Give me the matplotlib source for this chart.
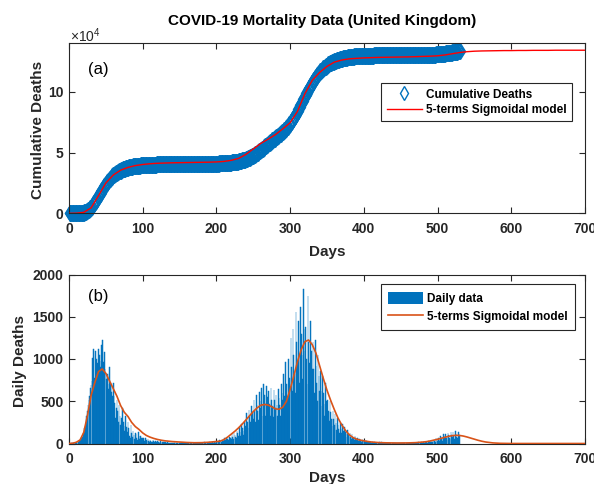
import numpy as np
import matplotlib
matplotlib.use("Agg")
import matplotlib.pyplot as plt
from matplotlib.lines import Line2D
from matplotlib.patches import Patch

# ---------------- data ----------------
daily_deaths = [
    0, 0, 1, 0, 1, 2, 1, 2, 3, 5,
    8, 12, 18, 25, 30, 45, 60, 75, 100, 130,
    180, 210, 260, 330, 390, 450, 510, 560, 660, 690,
    740, 1010, 1120, 700, 780, 1100, 1000, 880, 950, 1120,
    1050, 980, 900, 1170, 1230, 850, 960, 1080, 880, 830,
    760, 820, 700, 650, 900, 720, 680, 610, 560, 720,
    560, 480, 300, 420, 520, 380, 260, 450, 330, 220,
    300, 250, 420, 260, 150, 210, 330, 200, 140, 250,
    180, 90, 60, 220, 130, 80, 150, 100, 50, 120,
    110, 60, 40, 140, 90, 50, 90, 60, 30, 70,
    60, 35, 25, 70, 45, 30, 55, 30, 20, 40,
    35, 20, 15, 45, 28, 18, 30, 20, 12, 25,
    20, 12, 10, 28, 18, 10, 18, 12, 8, 15,
    12, 8, 6, 16, 10, 6, 10, 7, 5, 9,
    10, 6, 4, 12, 8, 5, 8, 6, 4, 7,
    8, 5, 3, 9, 6, 4, 6, 5, 3, 6,
    7, 4, 3, 8, 5, 4, 5, 4, 3, 6,
    8, 5, 4, 9, 6, 5, 7, 5, 4, 8,
    10, 7, 5, 12, 9, 7, 10, 8, 6, 12,
    15, 10, 8, 18, 14, 10, 15, 12, 9, 20,
    30, 18, 22, 40, 35, 25, 15, 45, 38, 30,
    60, 40, 25, 70, 55, 45, 30, 80, 65, 50,
    110, 75, 50, 130, 100, 80, 60, 150, 120, 90,
    190, 140, 90, 230, 180, 150, 100, 260, 210, 160,
    360, 260, 180, 400, 320, 260, 190, 440, 360, 290,
    520, 380, 250, 570, 460, 390, 280, 610, 500, 420,
    660, 470, 320, 700, 570, 480, 330, 680, 550, 440,
    620, 470, 320, 660, 520, 440, 310, 630, 510, 420,
    570, 450, 320, 650, 540, 460, 330, 700, 600, 510,
    820, 560, 380, 960, 700, 560, 390, 1000, 780, 640,
    1250, 900, 620, 1350, 1050, 820, 600, 1560, 1200, 950,
    1450, 1050, 720, 1620, 1300, 1050, 760, 1830, 1350, 1100,
    1380, 1000, 700, 1740, 1200, 950, 680, 1450, 1100, 880,
    1200, 880, 600, 1230, 920, 720, 500, 1050, 800, 620,
    860, 620, 440, 800, 600, 470, 330, 720, 500, 380,
    520, 380, 270, 500, 370, 290, 210, 390, 290, 220,
    350, 240, 160, 300, 220, 170, 120, 240, 170, 130,
    230, 150, 100, 200, 140, 110, 75, 160, 110, 85,
    130, 80, 55, 110, 80, 60, 40, 85, 60, 45,
    65, 40, 28, 55, 40, 30, 20, 45, 32, 25,
    28, 16, 10, 32, 20, 13, 9, 22, 14, 10,
    20, 12, 8, 22, 15, 10, 7, 16, 11, 8,
    14, 8, 5, 15, 10, 7, 5, 11, 8, 6,
    10, 6, 4, 11, 8, 5, 4, 9, 6, 5,
    8, 5, 3, 9, 6, 4, 3, 7, 5, 4,
    7, 4, 3, 8, 6, 4, 3, 7, 5, 4,
    8, 5, 3, 9, 7, 5, 4, 9, 6, 5,
    10, 6, 4, 12, 9, 6, 5, 12, 8, 7,
    15, 9, 6, 20, 14, 10, 8, 25, 18, 14,
    35, 20, 14, 45, 35, 25, 18, 60, 45, 35,
    70, 45, 28, 90, 65, 48, 35, 110, 80, 60,
    110, 70, 45, 130, 95, 70, 50, 140, 105, 80,
    135, 90, 55, 150, 110, 80, 60, 140, 110, 85,
]

# 5-terms sigmoidal model, daily deaths, sampled every 5 days (0..700)
model_daily = [
    0, 3, 15, 42, 130, 330, 570, 720, 850, 882,
    830, 740, 650, 560, 450, 370, 320, 250, 200, 166,
    125, 95, 75, 60, 48, 39, 32, 27, 23, 20,
    17, 14, 12, 10, 9, 9, 10, 12, 15, 19,
    23, 28, 45, 75, 110, 145, 185, 230, 280, 330,
    378, 420, 452, 462, 455, 435, 410, 405, 430, 500,
    640, 800, 970, 1110, 1205, 1225, 1170, 1070, 920, 770,
    630, 510, 400, 300, 220, 155, 105, 72, 52, 40,
    32, 24, 18, 14, 11, 9, 8, 7, 6, 6,
    6, 6, 7, 8, 10, 13, 17, 22, 30, 40,
    50, 62, 74, 85, 93, 97, 95, 88, 77, 64,
    50, 38, 27, 18, 12, 7, 4, 2, 1, 1,
    0, 0, 0, 0, 0, 0, 0, 0, 0, 0, 0, 0, 0, 0, 0, 0, 0, 0, 0, 0, 0,
]

# 5-terms sigmoidal model, cumulative deaths (x1e4), sampled every 10 days (0..700)
model_cum_1e4 = [
    0.00, 0.01, 0.08, 0.45, 1.45, 2.50, 3.15, 3.55, 3.78, 3.93,
    4.02, 4.08, 4.12, 4.14, 4.16, 4.17, 4.18, 4.19, 4.20, 4.21,
    4.23, 4.27, 4.36, 4.52, 4.85, 5.30, 5.75, 6.10, 6.48, 6.95,
    7.46, 8.40, 9.85, 10.95, 11.60, 12.10, 12.45, 12.62, 12.72, 12.76,
    12.80, 12.82, 12.84, 12.85, 12.86, 12.87, 12.88, 12.90, 12.92, 12.94,
    12.97, 13.04, 13.14, 13.24, 13.31, 13.35, 13.37, 13.38, 13.39, 13.40,
    13.40, 13.41, 13.41, 13.42, 13.42, 13.42, 13.43, 13.43, 13.43, 13.43, 13.43,
]

x_ticks = [0, 100, 200, 300, 400, 500, 600, 700]
cum_ticks = [0, 5e4, 10e4]
cum_tick_labels = ["0", "5", "10"]
daily_ticks = [0, 500, 1000, 1500, 2000]

title_text = "COVID-19 Mortality Data (United Kingdom)"

# ---------------- style ----------------
plt.rcParams['font.family'] = ['Liberation Sans', 'DejaVu Sans']
plt.rcParams['mathtext.fontset'] = 'custom'
plt.rcParams['mathtext.rm'] = 'Liberation Sans'
plt.rcParams['mathtext.it'] = 'Liberation Sans:italic'
plt.rcParams['mathtext.bf'] = 'Liberation Sans:bold'

BLUE = '#0072BD'
ORANGE = '#D95319'
RED = '#FF0000'
AXC = '#262626'

days = np.arange(1, len(daily_deaths) + 1)
cum_deaths = np.cumsum(daily_deaths)
model_daily_x = np.arange(0, 5 * len(model_daily), 5)
model_cum_x = np.arange(0, 10 * len(model_cum_1e4), 10)
model_cum = np.array(model_cum_1e4) * 1e4

W, H = 594, 484
fig = plt.figure(figsize=(W / 100, H / 100), dpi=100)

def fx(px):
    return px / W

def fy(py):
    return 1 - py / H

L, R = 69, 585
ax1 = fig.add_axes([fx(L), fy(213.3), fx(R - L), (213.3 - 43.3) / H])
ax2 = fig.add_axes([fx(L), fy(443.5), fx(R - L), (443.5 - 274.5) / H])

def style_axes(ax):
    for s in ax.spines.values():
        s.set_color(AXC)
        s.set_linewidth(0.8)
    ax.tick_params(direction='in', length=4.3, width=0.8, top=True, right=True,
                   colors=AXC, labelsize=10)
    ax.tick_params(axis='x', pad=6)
    ax.tick_params(axis='y', pad=4)
    for lab in ax.get_xticklabels() + ax.get_yticklabels():
        lab.set_fontweight('bold')

# ---- top panel ----
ax1.plot(days, cum_deaths, linestyle='none', marker='d', markersize=8,
         markerfacecolor='none', markeredgecolor=BLUE, markeredgewidth=1.0,
         clip_on=False, zorder=2)
ax1.plot(model_cum_x, model_cum, color=RED, linewidth=1.0, zorder=3)
ax1.set_xlim(0, 700)
ax1.set_ylim(0, 14e4)
ax1.set_xticks(x_ticks)
ax1.set_yticks(cum_ticks)
ax1.set_yticklabels(cum_tick_labels)
style_axes(ax1)
ax1.set_xlabel("Days", fontsize=11, fontweight='bold', color=AXC)
ax1.xaxis.set_label_coords(0.5, -0.185)
ax1.set_ylabel("Cumulative Deaths", fontsize=11, fontweight='bold', color=AXC)
ax1.yaxis.set_label_coords(-0.047, 0.49)
ax1.text(0.002, 1.008, r'$\times10^{4}$', transform=ax1.transAxes,
         fontsize=10, color=AXC, ha='left', va='baseline')
ax1.text(0.037, 0.846, "(a)", transform=ax1.transAxes, fontsize=12,
         ha='left', va='center', color='black')

h1 = [Line2D([], [], linestyle='none', marker='d', markersize=7,
             markerfacecolor='white', markeredgecolor=BLUE, markeredgewidth=1.0),
      Line2D([], [], color=RED, linewidth=1.0)]
leg1 = ax1.legend(h1, ["Cumulative Deaths", "5-terms Sigmoidal model"],
                  loc='upper right', bbox_to_anchor=(0.974, 0.765),
                  borderaxespad=0, frameon=True, fancybox=False, framealpha=1,
                  edgecolor=AXC, prop={'weight': 'bold', 'size': 8.5},
                  handlelength=3.0, handletextpad=0.3, labelspacing=0.3,
                  borderpad=0.45)
leg1.get_frame().set_linewidth(0.8)

# ---- bottom panel ----
ax2.bar(days, daily_deaths, width=0.9, color=BLUE, edgecolor=BLUE,
        linewidth=0.35, alpha=0.95, zorder=2)
ax2.plot(model_daily_x, model_daily, color=ORANGE, linewidth=1.2, zorder=3)
ax2.set_xlim(0, 700)
ax2.set_ylim(0, 2000)
ax2.set_xticks(x_ticks)
ax2.set_yticks(daily_ticks)
style_axes(ax2)
ax2.set_xlabel("Days", fontsize=11, fontweight='bold', color=AXC)
ax2.xaxis.set_label_coords(0.5, -0.16)
ax2.set_ylabel("Daily Deaths", fontsize=11, fontweight='bold', color=AXC)
ax2.yaxis.set_label_coords(-0.081, 0.49)
ax2.text(0.037, 0.867, "(b)", transform=ax2.transAxes, fontsize=12,
         ha='left', va='center', color='black')

h2 = [Patch(facecolor=BLUE, edgecolor='none'),
      Line2D([], [], color=ORANGE, linewidth=1.2)]
leg2 = ax2.legend(h2, ["Daily data", "5-terms Sigmoidal model"],
                  loc='upper right', bbox_to_anchor=(0.981, 0.941),
                  borderaxespad=0, frameon=True, fancybox=False, framealpha=1,
                  edgecolor=AXC, prop={'weight': 'bold', 'size': 8.5},
                  handlelength=3.0, handleheight=1.2, handletextpad=0.35,
                  labelspacing=0.45, borderpad=0.6)
leg2.get_frame().set_linewidth(0.8)

fig.text(fx(322.5), fy(25), title_text, fontsize=11, fontweight='bold',
         ha='center', va='baseline', color='black')

fig.savefig("out.png", dpi=100)
